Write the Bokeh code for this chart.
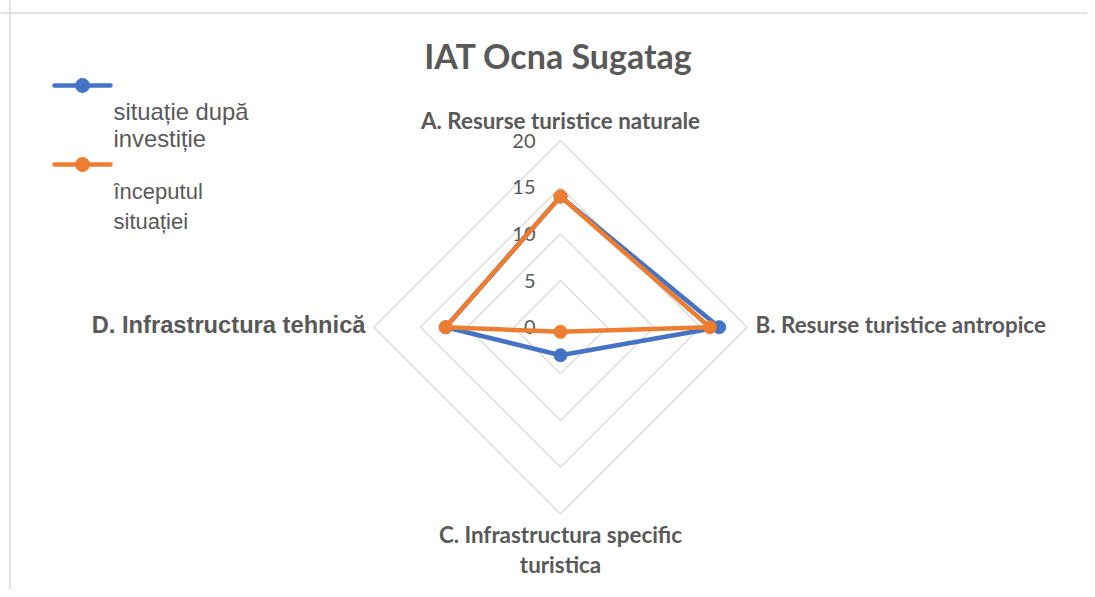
import numpy as np
from bokeh.plotting import figure
from bokeh.models import Range1d, Span
from bokeh.core.properties import value
from bokeh.embed import file_html
from bokeh.resources import INLINE

# ---- data ----
categories = ["A. Resurse turistice naturale", "B. Resurse turistice antropice",
              "C. Infrastructura specific\nturistica", "D. Infrastructura tehnică"]
series_names = ["situație după investiție", "începutul situației"]
after_investment = [14.0, 17.0, 3.0, 12.3]
initial_situation = [14.0, 16.0, 0.5, 12.3]
tick_values = [0, 5, 10, 15, 20]
tick_labels = ["0", "5", "10", "15", "20"]
title_text = "IAT Ocna Sugatag"

BLUE = "#4472C4"
ORANGE = "#ED7D31"
TXT = "#595959"
GRID = "#D9D9D9"

W, H = 1087, 589
ORIGIN = 0                      # observed canvas origin in the screenshot
CX, CY = 560.0, 326.7           # chart centre in picture pixels
K = 186.7 / 20.0                # pixels per unit
S = 9                           # text baseline correction (px)


def px(xp):
    return (xp - CX) / K


def py(yp):
    return (CY - yp) / K


p = figure(width=W, height=H, output_backend="svg", toolbar_location=None,
           x_range=Range1d(px(ORIGIN), px(ORIGIN + W)),
           y_range=Range1d(py(ORIGIN + H), py(ORIGIN)),
           min_border=0, background_fill_color="white", border_fill_color="white")
p.axis.visible = False
p.xgrid.visible = False
p.ygrid.visible = False
p.outline_line_color = None

# chart border (top and left visible in the frame)
p.add_layout(Span(location=py(12.5), dimension="width", line_color=GRID, line_width=1.5))
p.add_layout(Span(location=px(9.5), dimension="height", line_color=GRID, line_width=1.5))

# angles: A top, B right, C bottom, D left (clockwise)
angles = np.array([np.pi / 2, 0.0, -np.pi / 2, np.pi])

# grid diamonds
for lv in tick_values[1:]:
    gx = list(lv * np.cos(angles)) + [lv * np.cos(angles[0])]
    gy = list(lv * np.sin(angles)) + [lv * np.sin(angles[0])]
    p.line(gx, gy, line_color=GRID, line_width=1.3)

# tick labels
p.text(x=[0] * len(tick_values), y=tick_values, text=tick_labels,
       text_font=value("Lato"), text_font_size="20px", text_color=TXT,
       text_align="right", text_baseline="alphabetic", x_offset=-25, y_offset=0)

# series
for vals, col in [(after_investment, BLUE), (initial_situation, ORANGE)]:
    v = np.array(vals)
    xs = v * np.cos(angles)
    ys = v * np.sin(angles)
    p.line(list(xs) + [xs[0]], list(ys) + [ys[0]], line_color=col, line_width=4.5,
           line_join="round")
    p.scatter(xs, ys, size=13, fill_color=col, line_color=col, marker="circle")

LAB = "22.4px"
# category labels
p.text(x=[px(560)], y=[py(129 - S)], text=[categories[0]], text_font=value("Lato"),
       text_font_style="bold", text_font_size=LAB, text_color=TXT,
       text_align="center", text_baseline="alphabetic")
p.text(x=[px(755)], y=[py(333.3 - S)], text=[categories[1]], text_font=value("Lato"),
       text_font_style="bold", text_font_size=LAB, text_color=TXT,
       text_align="left", text_baseline="alphabetic")
c_lines = categories[2].split("\n")
p.text(x=[px(560), px(560)], y=[py(543.3 - S), py(572.7 - S)], text=c_lines,
       text_font=value("Lato"), text_font_style="bold", text_font_size=LAB,
       text_color=TXT, text_align="center", text_baseline="alphabetic")
p.text(x=[px(365)], y=[py(333.3 - S)], text=[categories[3]],
       text_font=value("Liberation Sans"), text_font_style="bold",
       text_font_size="23.7px", text_color=TXT, text_align="right",
       text_baseline="alphabetic")

# title
p.text(x=[px(558)], y=[py(68.3 - 13)], text=[title_text], text_font=value("Lato"),
       text_font_style="bold", text_font_size="34px", text_color=TXT,
       text_align="center", text_baseline="alphabetic")

# legend (Excel style: marker line above wrapped label)
leg_rows = [(BLUE, 85, ["situație după", "investiție"], [120, 147], "23.8px"),
            (ORANGE, 164, ["începutul", "situației"], [200, 230], "22px")]
for col, ly, lines, bases, fs in leg_rows:
    p.line([px(54), px(110)], [py(ly), py(ly)], line_color=col, line_width=4.5,
           line_cap="round")
    p.scatter([px(82)], [py(ly)], size=14, fill_color=col, line_color=col)
    p.text(x=[px(113)] * len(lines), y=[py(b - S) for b in bases], text=lines,
           text_font=value("Liberation Sans"), text_font_size=fs,
           text_color=TXT, text_align="left", text_baseline="alphabetic")

open("out.html", "w").write(file_html(p, INLINE))
